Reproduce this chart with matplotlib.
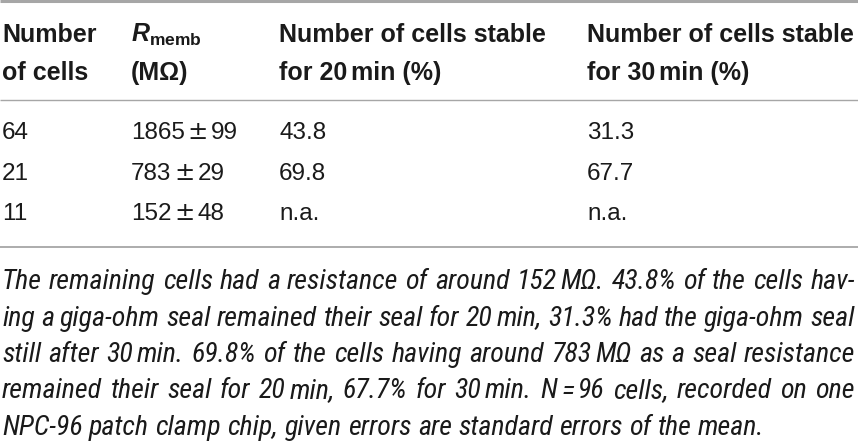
import matplotlib

matplotlib.use("Agg")

import matplotlib.pyplot as plt

# table values
cells = [64, 21, 11]
r_memb_mean = [1865, 783, 152]
r_memb_err = [99, 29, 48]
stable_20 = ["43.8", "69.8", "n.a."]
stable_30 = ["31.3", "67.7", "n.a."]

header_top = ["Number", r"$R_{\mathrm{memb}}$", "Number of cells stable", "Number of cells stable"]
header_bottom = ["of cells", "(MΩ)", "for 20~min (%)", "for 30~min (%)"]

# footnote, one string per printed line ("~" = thin space)
footnote = [
    "The remaining cells had a resistance of around 152~MΩ. 43.8% of the cells hav-",
    "ing a giga-ohm seal remained their seal for 20~min, 31.3% had the giga-ohm seal",
    "still after 30~min. 69.8% of the cells having around 783~MΩ as a seal resistance",
    "remained their seal for 20~min, 67.7% for 30~min. N~=~96 cells, recorded on one",
    "NPC-96 patch clamp chip, given errors are standard errors of the mean.",
]

TEXT = "#1a1a1a"
RULE = "#a6a6a6"
W, H = 858, 447
col_x = [2, 131, 279, 587]
HEAD_FS = 18
BODY_FS = 17.5
NOTE_FS = 20.2

plt.rcParams["mathtext.fontset"] = "custom"
plt.rcParams["mathtext.it"] = "Liberation Sans:italic:bold"
plt.rcParams["mathtext.rm"] = "Liberation Sans:bold"
plt.rcParams["mathtext.bf"] = "Liberation Sans:bold"

fig = plt.figure(figsize=(W / 100, H / 100), dpi=100)
ax = fig.add_axes([0, 0, 1, 1])
ax.set_xlim(0, W)
ax.set_ylim(H, 0)
ax.axis("off")
fig.canvas.draw()
renderer = fig.canvas.get_renderer()

table_font = dict(family=["Liberation Sans", "DejaVu Sans"], color=TEXT)
note_font = dict(family=["Roboto Condensed", "DejaVu Sans"], style="italic",
                 color=TEXT, fontsize=NOTE_FS)


def width_of(s, **kw):
    t = ax.text(0, 0, s, **kw)
    w = t.get_window_extent(renderer).width
    t.remove()
    return w


def draw_token(x, y, token, thin=4.0, **kw):
    parts = token.split("~")
    for i, p in enumerate(parts):
        ax.text(x, y, p, va="baseline", ha="left", **kw)
        x += width_of(p, **kw)
        if i < len(parts) - 1:
            x += thin
    return x


def token_width(token, thin=4.0, **kw):
    parts = token.split("~")
    return sum(width_of(p, **kw) for p in parts) + thin * (len(parts) - 1)


# rules
ax.plot([0, W], [1, 1], color=RULE, lw=2.2, solid_capstyle="butt")
ax.plot([0, W], [100, 100], color=RULE, lw=1.0, solid_capstyle="butt")
ax.plot([0, W], [247, 247], color=RULE, lw=1.3, solid_capstyle="butt")

# header
for x, top, bot in zip(col_x, header_top, header_bottom):
    draw_token(x, 41.5, top, fontsize=HEAD_FS, fontweight="bold", **table_font)
    draw_token(x, 80, bot, fontsize=HEAD_FS, fontweight="bold", **table_font)

# body
row_y = [139, 180, 220]
pm_font = dict(family=["DejaVu Sans"], color=TEXT, fontsize=BODY_FS)
for i, y in enumerate(row_y):
    draw_token(col_x[0], y, str(cells[i]), fontsize=BODY_FS, **table_font)
    x = draw_token(col_x[1], y, str(r_memb_mean[i]), fontsize=BODY_FS, **table_font)
    x = draw_token(x + 3, y, "±", **pm_font)
    draw_token(x + 3, y, str(r_memb_err[i]), fontsize=BODY_FS, **table_font)
    draw_token(col_x[2], y, stable_20[i], fontsize=BODY_FS, **table_font)
    draw_token(col_x[3], y, stable_30[i], fontsize=BODY_FS, **table_font)

# footnote, justified except the last line
left, right = 2, 855
note_y = [289, 325.5, 362, 398.5, 435]
for k, (line, y) in enumerate(zip(footnote, note_y)):
    words = line.split(" ")
    widths = [token_width(w, **note_font) for w in words]
    if k < len(footnote) - 1:
        gap = (right - left - sum(widths)) / (len(words) - 1)
    else:
        gap = width_of("a b", **note_font) - width_of("ab", **note_font)
    x = left
    for w, ww in zip(words, widths):
        draw_token(x, y, w, **note_font)
        x += ww + gap

fig.savefig("out.png", dpi=100)
